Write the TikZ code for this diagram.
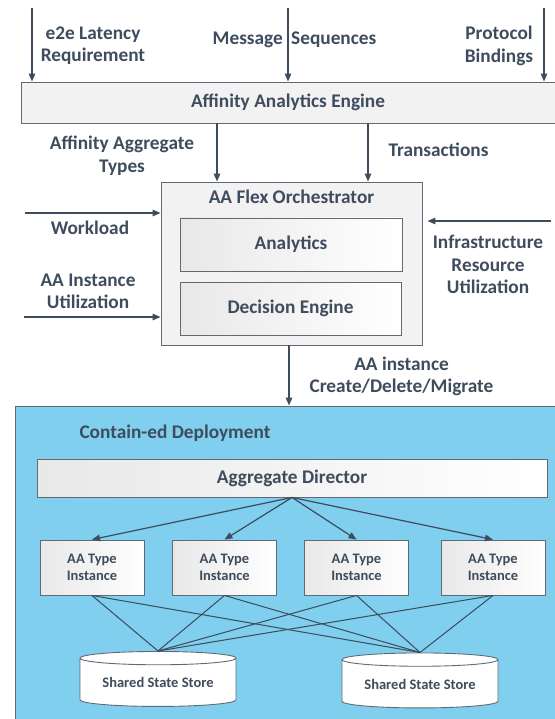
\documentclass[tikz,border=0pt]{standalone}
\usepackage{fontspec}
\setmainfont{Carlito}
\usepackage{tikz}
\usetikzlibrary{arrows.meta,shapes.geometric,calc}
\definecolor{inkblue}{RGB}{62,76,94}
\definecolor{rimgray}{RGB}{96,106,118}
\definecolor{panegray}{RGB}{242,242,242}
\definecolor{skyfill}{RGB}{128,207,238}

\begin{document}
\begin{tikzpicture}[x=1pt, y=-1pt, >={Triangle[length=8pt,width=6.5pt]},
  every node/.style={text=inkblue, font=\fontsize{19.3}{22.5}\selectfont\bfseries, align=center},
  pane/.style={draw=rimgray, fill=panegray, line width=0.9pt, inner sep=0pt},
  card/.style={draw=rimgray, left color=black!9, right color=white, line width=0.9pt, inner sep=0pt},
  small/.style={font=\fontsize{14.5}{17}\selectfont\bfseries},
  store/.style={cylinder, shape border rotate=90, aspect=0.12, draw=rimgray, fill=white,
    line width=0.9pt, minimum width=156pt, minimum height=55pt, inner sep=0pt, small},
  wire/.style={draw=inkblue, fill=inkblue, line width=1.2pt}]
\useasboundingbox (0,0) rectangle (554,719);

% engine and its inputs
\node[pane, minimum width=545pt, minimum height=41pt] (engine) at (293.5,102.5) {};
\node at (288,102) {Affinity Analytics Engine};
\coordinate (inLatency) at (32,8);
\coordinate (inMessage) at (288,8);
\coordinate (inProtocol) at (544,8);
\node (latency) at (93,45.5) {e2e Latency\\Requirement};
\node (message) at (294.5,40) {Message\ \hspace{4pt}Sequences};
\node (protocol) at (499,46) {Protocol\\Bindings};
\draw[->, wire] (inLatency) -- (inLatency |- engine.north);
\draw[->, wire] (inMessage) -- (inMessage |- engine.north);
\draw[->, wire] (inProtocol) -- (inProtocol |- engine.north);

% orchestrator
\node[pane, minimum width=261pt, minimum height=163pt] (orch) at (291.5,263.5) {};
\node (orchTitle) at (291.5,197) {AA Flex Orchestrator};
\node[card, minimum width=222pt, minimum height=53pt] (analytics) at (291,244.5) {Analytics};
\node[card, minimum width=221pt, minimum height=53pt] (decision) at (290.5,308.5) {Decision Engine};
\node (aggTypes) at (122,155.5) {Affinity Aggregate\\Types};
\node (transactions) at (438.5,150) {Transactions};
\draw[->, wire] (engine.south -| 217,0) -- (orch.north -| 217,0);
\draw[->, wire] (engine.south -| 368,0) -- (orch.north -| 368,0);

% side inputs
\coordinate (inWorkload) at (25,213);
\coordinate (inUtil) at (24,317);
\coordinate (inInfra) at (551,221);
\node (workload) at (90,228) {Workload};
\node (aaUtil) at (88,291.5) {AA Instance\\Utilization};
\node (infra) at (488,264.5) {Infrastructure\\Resource\\Utilization};
\draw[->, wire] (inWorkload) -- (inWorkload -| orch.west);
\draw[->, wire] (inUtil) -- (inUtil -| orch.west);
\draw[->, wire, shorten >=5pt] (inInfra) -- (inInfra -| orch.east);

% deployment
\node[draw=rimgray, fill=skyfill, line width=0.9pt, minimum width=545pt, minimum height=319pt] (deploy) at (287.5,565.5) {};
\node[anchor=west] (deployTitle) at (76,433) {Contain-ed Deployment};
\node (lifecycle) at (401.5,376.5) {AA instance\\Create/Delete/Migrate};
\draw[->, wire] (orch.south -| 289,0) -- (deploy.north -| 289,0);

\node[card, minimum width=510pt, minimum height=38pt] (director) at (292,478) {Aggregate Director};
\foreach \i/\x in {1/92,2/224.5,3/356.5,4/493}
  \node[card, small, minimum width=104pt, minimum height=55pt] (inst\i) at (\x,567.5) {AA Type\\Instance};
\node[store] (storeA) at (158,682.5) {Shared State Store};
\node[store] (storeB) at (420,684) {Shared State Store};

\foreach \i in {1,...,4} {
  \draw[->, wire] (director.south) -- (inst\i.north);
  \draw[wire, line width=1pt] (inst\i.south) -- (storeA.north);
  \draw[wire, line width=1pt] (inst\i.south) -- (storeB.north);
}
\end{tikzpicture}
\end{document}
